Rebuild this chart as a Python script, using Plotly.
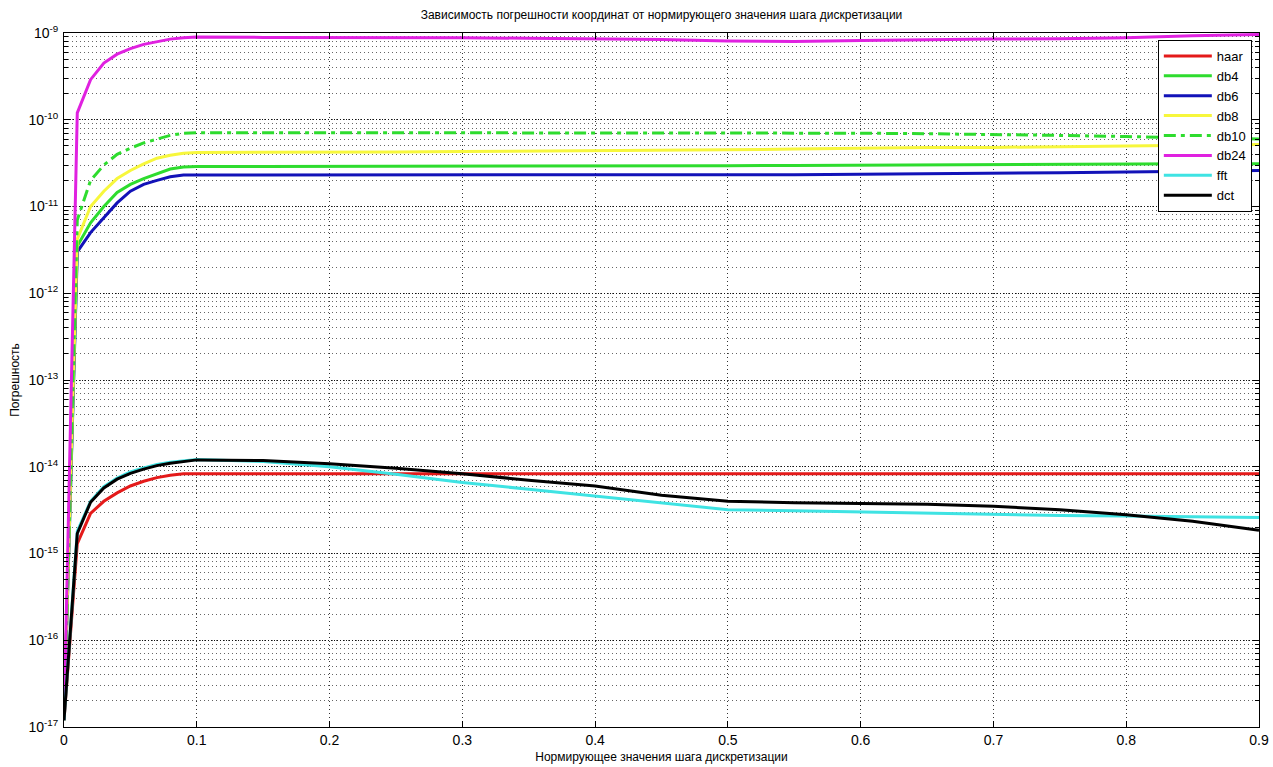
import plotly.graph_objects as go

# ---- data ----
x_vals = [0, 0.01, 0.02, 0.03, 0.04, 0.05, 0.06, 0.07, 0.08, 0.09, 0.1,
          0.15, 0.2, 0.25, 0.3, 0.35, 0.4, 0.45, 0.5, 0.55, 0.6, 0.65,
          0.7, 0.75, 0.8, 0.85, 0.9]

haar = [1.2e-17, 1.3e-15, 2.9e-15, 4.0e-15, 5.0e-15, 6.0e-15, 6.8e-15, 7.5e-15, 8.0e-15, 8.3e-15, 8.3e-15,
        8.3e-15, 8.3e-15, 8.3e-15, 8.3e-15, 8.3e-15, 8.3e-15, 8.3e-15, 8.3e-15, 8.3e-15, 8.3e-15, 8.3e-15,
        8.3e-15, 8.3e-15, 8.3e-15, 8.3e-15, 8.3e-15]
db4 = [1.2e-17, 3.5e-12, 6.5e-12, 1.0e-11, 1.45e-11, 1.8e-11, 2.1e-11, 2.4e-11, 2.7e-11, 2.85e-11, 2.9e-11,
       2.9e-11, 2.9e-11, 2.9e-11, 2.9e-11, 2.9e-11, 2.9e-11, 2.92e-11, 2.95e-11, 2.97e-11, 3.0e-11, 3.0e-11,
       3.02e-11, 3.05e-11, 3.08e-11, 3.1e-11, 3.1e-11]
db6 = [1.2e-17, 3.0e-12, 5.0e-12, 7.5e-12, 1.1e-11, 1.5e-11, 1.8e-11, 2.0e-11, 2.2e-11, 2.3e-11, 2.3e-11,
       2.3e-11, 2.3e-11, 2.3e-11, 2.3e-11, 2.3e-11, 2.3e-11, 2.3e-11, 2.32e-11, 2.33e-11, 2.35e-11, 2.37e-11,
       2.4e-11, 2.45e-11, 2.5e-11, 2.55e-11, 2.6e-11]
db8 = [1.2e-17, 4.2e-12, 1.0e-11, 1.5e-11, 2.1e-11, 2.6e-11, 3.1e-11, 3.6e-11, 3.9e-11, 4.1e-11, 4.2e-11,
       4.2e-11, 4.2e-11, 4.25e-11, 4.3e-11, 4.35e-11, 4.4e-11, 4.4e-11, 4.5e-11, 4.6e-11, 4.7e-11, 4.8e-11,
       4.8e-11, 4.9e-11, 5.0e-11, 5.1e-11, 5.2e-11]
db10 = [1.2e-17, 7.0e-12, 2.0e-11, 3.0e-11, 4.0e-11, 4.7e-11, 5.4e-11, 6.0e-11, 6.6e-11, 7.0e-11, 7.1e-11,
        7.1e-11, 7.1e-11, 7.1e-11, 7.1e-11, 7.1e-11, 7.1e-11, 7.1e-11, 7.1e-11, 7.05e-11, 7.0e-11, 6.9e-11,
        6.8e-11, 6.6e-11, 6.4e-11, 6.2e-11, 6.0e-11]
db24 = [1.2e-17, 1.2e-10, 2.9e-10, 4.5e-10, 5.7e-10, 6.6e-10, 7.4e-10, 8.0e-10, 8.5e-10, 8.8e-10, 9.0e-10,
        8.9e-10, 8.9e-10, 8.8e-10, 8.8e-10, 8.7e-10, 8.6e-10, 8.4e-10, 8.1e-10, 8.0e-10, 8.2e-10, 8.4e-10,
        8.5e-10, 8.6e-10, 8.8e-10, 9.3e-10, 9.6e-10]
fft = [1.2e-17, 1.8e-15, 4.0e-15, 5.9e-15, 7.4e-15, 8.7e-15, 9.7e-15, 1.06e-14, 1.13e-14, 1.18e-14, 1.21e-14,
       1.15e-14, 1.0e-14, 8.2e-15, 6.6e-15, 5.5e-15, 4.6e-15, 3.8e-15, 3.2e-15, 3.1e-15, 3.0e-15, 2.9e-15,
       2.8e-15, 2.75e-15, 2.7e-15, 2.65e-15, 2.6e-15]
dct = [1.2e-17, 1.7e-15, 3.9e-15, 5.7e-15, 7.2e-15, 8.4e-15, 9.4e-15, 1.03e-14, 1.1e-14, 1.16e-14, 1.2e-14,
       1.18e-14, 1.08e-14, 9.6e-15, 8.3e-15, 7.0e-15, 6.0e-15, 4.7e-15, 4.0e-15, 3.85e-15, 3.8e-15, 3.7e-15,
       3.5e-15, 3.2e-15, 2.8e-15, 2.35e-15, 1.85e-15]

series_names = ["haar", "db4", "db6", "db8", "db10", "db24", "fft", "dct"]
series_values = [haar, db4, db6, db8, db10, db24, fft, dct]

y_tick_vals = [1e-17, 1e-16, 1e-15, 1e-14, 1e-13, 1e-12, 1e-11, 1e-10, 1e-9]
y_tick_text = ["10<sup>-17</sup>", "10<sup>-16</sup>", "10<sup>-15</sup>", "10<sup>-14</sup>",
               "10<sup>-13</sup>", "10<sup>-12</sup>", "10<sup>-11</sup>", "10<sup>-10</sup>",
               "10<sup>-9</sup>"]
x_tick_vals = [0, 0.1, 0.2, 0.3, 0.4, 0.5, 0.6, 0.7, 0.8, 0.9]
x_tick_text = ["0", "0.1", "0.2", "0.3", "0.4", "0.5", "0.6", "0.7", "0.8", "0.9"]

title_text = "Зависимость погрешности координат от нормирующего значения шага дискретизации"
x_title = "Нормирующее значения шага дискретизации"
y_title = "Погрешность"

# ---- styles ----
colors = {"haar": "#e41a1a", "db4": "#2edc2e", "db6": "#1212b8", "db8": "#f7f73c",
          "db10": "#2edc2e", "db24": "#e021e0", "fft": "#3fe3e3", "dct": "#000000"}
dashes = {"db10": "12px,5px,4px,5px"}

FONT = "Liberation Sans, Arial, sans-serif"

fig = go.Figure()
for name, vals in zip(series_names, series_values):
    fig.add_trace(go.Scatter(
        x=x_vals, y=vals, mode="lines", name=name,
        line=dict(color=colors[name], width=3, dash=dashes.get(name, "solid")),
    ))

grid_dash = "1px,3px"
fig.update_layout(
    template="none",
    width=1273, height=767,
    margin=dict(l=64, r=14, t=33, b=40, autoexpand=False),
    paper_bgcolor="white", plot_bgcolor="white",
    font=dict(family=FONT, size=12, color="black"),
    title=dict(text=title_text, x=0.5, xref="paper", xanchor="center", y=0.981, yanchor="middle",
               yref="container", font=dict(size=12, family=FONT)),
    showlegend=True,
    legend=dict(x=0.994, xanchor="right", y=0.99, yanchor="top",
                bgcolor="white", bordercolor="black", borderwidth=1, itemwidth=48,
                font=dict(size=13, family=FONT), tracegroupgap=0),
    xaxis=dict(
        automargin=False,
        range=[0, 0.9], tickmode="array", tickvals=x_tick_vals, ticktext=x_tick_text,
        ticks="inside", ticklen=6, tickcolor="black", showline=True, linecolor="black",
        linewidth=1, mirror="ticks", showgrid=True, gridcolor="#333333", griddash=grid_dash,
        gridwidth=1, zeroline=False, tickfont=dict(size=14), ticklabelstandoff=0,
        title=dict(text=x_title, standoff=5, font=dict(size=12)),
    ),
    yaxis=dict(
        automargin=False,
        type="log", range=[-17, -9], tickmode="array", tickvals=y_tick_vals, ticktext=y_tick_text,
        ticks="inside", ticklen=6, tickcolor="black", showline=True, linecolor="black",
        linewidth=1, mirror="ticks", showgrid=True, gridcolor="#111111", griddash="1px,2px",
        gridwidth=1, zeroline=False, tickfont=dict(size=14), ticklabelstandoff=2,
        title=dict(text=y_title, standoff=6, font=dict(size=12)),
        minor=dict(dtick="D1", ticks="inside", ticklen=4, tickcolor="black",
                   showgrid=True, gridcolor="#666666", griddash=grid_dash, gridwidth=1),
    ),
)

fig.write_html("out.html", config={"displayModeBar": False},
               post_script="document.body.style.margin='0';document.body.style.overflow='hidden';")
